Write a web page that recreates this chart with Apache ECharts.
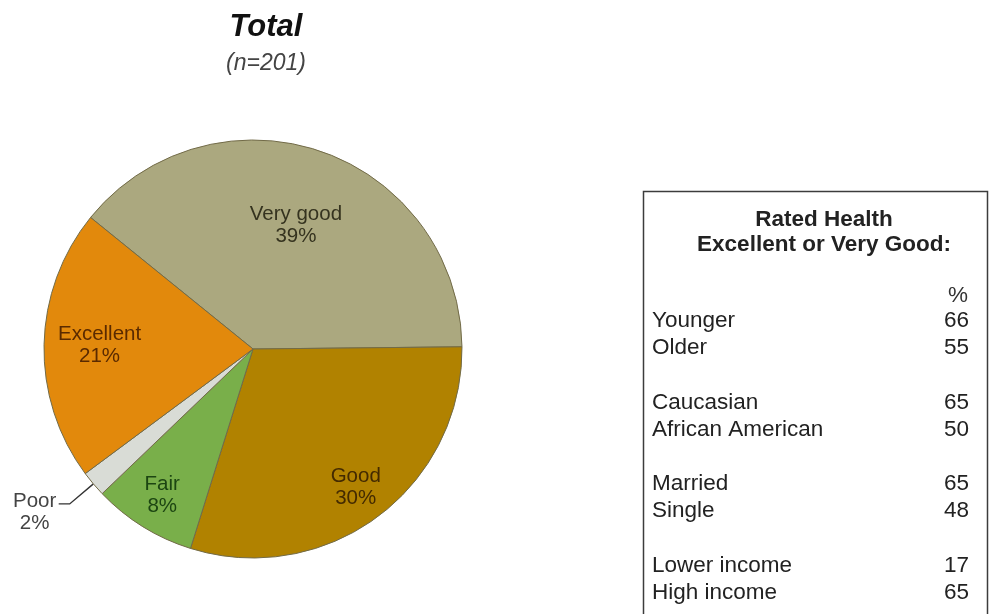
<!DOCTYPE html>
<html>
<head>
<meta charset="utf-8">
<script src="https://cdn.jsdelivr.net/npm/echarts@6/dist/echarts.min.js"></script>
<style>
  html, body { margin: 0; padding: 0; background: #ffffff; }
  #chart { width: 990px; height: 614px; }
</style>
</head>
<body>
<div id="chart"></div>
<script>
// Self-rated health, total sample
const categories = ['Very good', 'Good', 'Fair', 'Poor', 'Excellent'];
const shares = [39, 30, 8, 2, 21];

// Share rating health Excellent or Very Good, by subgroup (pairs)
const groupLabels = [
  ['Younger', 'Older'],
  ['Caucasian', 'African American'],
  ['Married', 'Single'],
  ['Lower income', 'High income']
];
const groupValues = [
  [66, 55],
  [65, 50],
  [65, 48],
  [17, 65]
];

const titleText = 'Total';
const subtitleText = '(n=201)';
const tableTitle = 'Rated Health\nExcellent or Very Good:';

// ---- styling ----
const FONT = '"Liberation Sans", Arial, Helvetica, sans-serif';
const sliceColors = {
  'Very good': '#ABA87F',
  'Good': '#B18200',
  'Fair': '#79AF4A',
  'Poor': '#D9DCD6',
  'Excellent': '#E2890C'
};
const labelColors = {
  'Very good': '#35331f',
  'Good': '#432a00',
  'Fair': '#1c4512',
  'Poor': '#444444',
  'Excellent': '#5a2a00'
};
// radial position of each inside label, as a fraction of the pie radius
const labelRing = { 'Very good': 0.61, 'Excellent': 0.72, 'Good': 0.81, 'Fair': 0.81 };

const R = 209;
const CENTER = [253, 349];
const START = 141;
const TABLE_FONT = 22.5;

const pieData = categories.map((c, i) => ({
  name: c,
  value: shares[i],
  itemStyle: { color: sliceColors[c] }
}));

// main pie with the outside-labelled small slice
const mainSeries = {
  type: 'pie',
  center: CENTER,
  radius: [0, R],
  startAngle: START,
  clockwise: true,
  avoidLabelOverlap: false,
  silent: true,
  itemStyle: { borderColor: '#726b48', borderWidth: 1 },
  data: pieData.map(d => {
    const outside = d.name === 'Poor';
    return Object.assign({}, d, {
      label: outside ? {
        show: true,
        position: 'outside',
        formatter: '{p|{b}}\n{p|{c}%}',
        distanceToLabelLine: 1,
        padding: [16, 0, 0, 0],
        rich: {
          p: { width: 46, align: 'center', fontFamily: FONT, fontSize: 20.5, lineHeight: 22, color: labelColors[d.name] }
        }
      } : { show: false },
      labelLine: outside ? {
        show: true, length: 31, length2: 11,
        lineStyle: { color: '#333333', width: 1.4 }
      } : { show: false }
    });
  })
};

// transparent rings that carry the inside labels at their radial distances
const rings = [...new Set(Object.values(labelRing))];
const labelSeries = rings.map(f => ({
  type: 'pie',
  center: CENTER,
  radius: [0, 2 * f * R],
  startAngle: START,
  clockwise: true,
  avoidLabelOverlap: false,
  silent: true,
  z: 5,
  itemStyle: { color: 'rgba(0,0,0,0)', borderWidth: 0 },
  labelLine: { show: false },
  data: categories.map((c, i) => ({
    name: c,
    value: shares[i],
    label: labelRing[c] === f ? {
      show: true,
      position: 'inside',
      formatter: '{b}\n{c}%',
      fontFamily: FONT,
      fontSize: 20.5,
      lineHeight: 22,
      color: labelColors[c]
    } : { show: false }
  }))
}));

// subgroup table
const tableGraphics = [];
const BOX_X = 643.5, BOX_Y = 191.5;
tableGraphics.push({
  type: 'rect',
  shape: { x: BOX_X, y: BOX_Y, width: 344, height: 480 },
  style: { fill: '#ffffff', stroke: '#3c3c3c', lineWidth: 1.5 },
  silent: true
});
tableGraphics.push({
  type: 'text',
  x: 824, y: 232,
  style: {
    text: tableTitle, fontFamily: FONT, fontSize: 22.5, fontWeight: 'bold',
    lineHeight: 25, fill: '#222222', align: 'center', verticalAlign: 'middle'
  }
});
tableGraphics.push({
  type: 'text',
  x: 968, y: 296,
  style: { text: '%', fontFamily: FONT, fontSize: TABLE_FONT, fill: '#333333', align: 'right', verticalAlign: 'middle' }
});
groupLabels.forEach((pair, g) => {
  pair.forEach((lab, k) => {
    const y = 321 + g * 81.5 + k * 27;
    tableGraphics.push({
      type: 'text', x: 652, y: y,
      style: { text: lab, fontFamily: FONT, fontSize: TABLE_FONT, fill: '#222222', align: 'left', verticalAlign: 'middle' }
    });
    tableGraphics.push({
      type: 'text', x: 969, y: y,
      style: { text: String(groupValues[g][k]), fontFamily: FONT, fontSize: TABLE_FONT, fill: '#222222', align: 'right', verticalAlign: 'middle' }
    });
  });
});

const chart = echarts.init(document.getElementById('chart'), null, { renderer: 'canvas' });
chart.setOption({
  backgroundColor: '#ffffff',
  animation: false,
  title: {
    text: titleText,
    subtext: subtitleText,
    left: 261,
    textAlign: 'center',
    top: 7,
    itemGap: 9,
    textStyle: { fontFamily: FONT, fontSize: 31, fontWeight: 'bold', fontStyle: 'italic', color: '#111111' },
    subtextStyle: { fontFamily: FONT, fontSize: 23, fontStyle: 'italic', color: '#444444' }
  },
  series: [mainSeries].concat(labelSeries),
  graphic: tableGraphics
});
</script>
</body>
</html>
